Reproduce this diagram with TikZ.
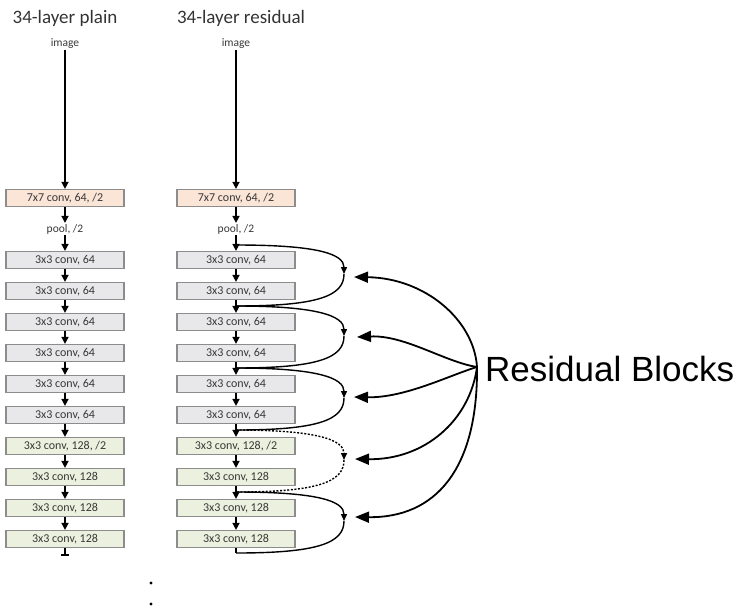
\documentclass[tikz,border=0pt]{standalone}
\usepackage{fontspec}
\setmainfont{Carlito}
\newfontfamily\arialfont{Liberation Sans}
\usetikzlibrary{arrows.meta}
\definecolor{peach}{HTML}{FBE5D6}
\definecolor{grayfill}{HTML}{E8E8EA}
\definecolor{greenfill}{HTML}{EBF1DE}
\definecolor{boxborder}{HTML}{8C8C8C}
\definecolor{txt}{HTML}{383838}
\begin{document}
\begin{tikzpicture}[x=1pt,y=-1pt,
 layer/.style={draw=boxborder, line width=1.2pt, minimum width=118pt, minimum height=17pt, inner sep=0pt, font=\fontsize{12}{13}\selectfont, text=txt},
 conv7/.style={layer, fill=peach},
 conv64/.style={layer, fill=grayfill},
 conv128/.style={layer, fill=greenfill},
 lbl/.style={font=\fontsize{11.5}{12}\selectfont, text=txt, inner sep=1pt},
 title/.style={font=\fontsize{19}{21}\selectfont, text=black!80},
 flow/.style={line width=1.5pt, -{Triangle[length=7pt,width=7pt]}},
 stem/.style={line width=1.5pt},
 skip/.style={line width=1.4pt},
 skiptip/.style={-{Triangle[length=7pt,width=6pt]}},
 dotskip/.style={line width=1.4pt, dash pattern=on 2pt off 1.6pt},
 callout/.style={line width=1.8pt, -{Triangle[length=14pt,width=11pt]}},
]
\useasboundingbox (0,0) rectangle (736,611);

% titles
\node[title] (tp) at (65,18) {34-layer plain};
\node[title] (tr) at (241,18) {34-layer residual};

% ---------- plain column ----------
\node[lbl] (pimg) at (65,44) {image};
\node[conv7] (p7) at (65,198) {7x7 conv, 64, /2};
\node[lbl] (ppool) at (65,229) {pool, /2};
\node[conv64] (p1) at (65,260) {3x3 conv, 64};
\node[conv64] (p2) at (65,291) {3x3 conv, 64};
\node[conv64] (p3) at (65,322) {3x3 conv, 64};
\node[conv64] (p4) at (65,353) {3x3 conv, 64};
\node[conv64] (p5) at (65,384) {3x3 conv, 64};
\node[conv64] (p6) at (65,415) {3x3 conv, 64};
\node[conv128] (p7b) at (65,446) {3x3 conv, 128, /2};
\node[conv128] (p8) at (65,477) {3x3 conv, 128};
\node[conv128] (p9) at (65,508) {3x3 conv, 128};
\node[conv128] (p10) at (65,539) {3x3 conv, 128};
\coordinate (pend) at (65,555);

\draw[flow] (pimg) -- (p7);
\draw[flow] (p7) -- (ppool);
\draw[flow] (ppool) -- (p1);
\draw[flow] (p1) -- (p2);
\draw[flow] (p2) -- (p3);
\draw[flow] (p3) -- (p4);
\draw[flow] (p4) -- (p5);
\draw[flow] (p5) -- (p6);
\draw[flow] (p6) -- (p7b);
\draw[flow] (p7b) -- (p8);
\draw[flow] (p8) -- (p9);
\draw[flow] (p9) -- (p10);
\draw[stem] (p10) -- (pend);
\draw[stem] (pend) ++(-4,0) -- ++(8,0);

% ---------- residual column ----------
\node[lbl] (rimg) at (236,44) {image};
\node[conv7] (r7) at (236,198) {7x7 conv, 64, /2};
\node[lbl] (rpool) at (236,229) {pool, /2};
\node[conv64] (r1) at (236,260) {3x3 conv, 64};
\node[conv64] (r2) at (236,291) {3x3 conv, 64};
\node[conv64] (r3) at (236,322) {3x3 conv, 64};
\node[conv64] (r4) at (236,353) {3x3 conv, 64};
\node[conv64] (r5) at (236,384) {3x3 conv, 64};
\node[conv64] (r6) at (236,415) {3x3 conv, 64};
\node[conv128] (r7b) at (236,446) {3x3 conv, 128, /2};
\node[conv128] (r8) at (236,477) {3x3 conv, 128};
\node[conv128] (r9) at (236,508) {3x3 conv, 128};
\node[conv128] (r10) at (236,539) {3x3 conv, 128};

\draw[flow] (rimg) -- (r7);
\draw[flow] (r7) -- (rpool);
\draw[flow] (rpool) -- (r1);
\draw[flow] (r1) -- (r2);
\draw[flow] (r2) -- (r3);
\draw[flow] (r3) -- (r4);
\draw[flow] (r4) -- (r5);
\draw[flow] (r5) -- (r6);
\draw[flow] (r6) -- (r7b);
\draw[flow] (r7b) -- (r8);
\draw[flow] (r8) -- (r9);
\draw[flow] (r9) -- (r10);

% junctions and skip arcs
\coordinate (rj0) at (236,245);
\coordinate (rj1) at (236,306);
\coordinate (rj2) at (236,368);
\coordinate (rj3) at (236,430);
\coordinate (rj4) at (236,492);
\coordinate (rj5) at (236,553);
\coordinate (m1) at (344,274);
\coordinate (m2) at (344,336);
\coordinate (m3) at (344,398);
\coordinate (m4) at (344,460);
\coordinate (m5) at (344,521);

\draw[stem] (r10) -- (rj5);

\draw[skip, skiptip] (rj0) .. controls +(82,0) and +(0,-20) .. (m1);
\draw[skip] (m1) .. controls +(0,22) and +(82,0) .. (rj1);
\draw[skip, skiptip] (rj1) .. controls +(82,0) and +(0,-20) .. (m2);
\draw[skip] (m2) .. controls +(0,22) and +(82,0) .. (rj2);
\draw[skip, skiptip] (rj2) .. controls +(82,0) and +(0,-20) .. (m3);
\draw[skip] (m3) .. controls +(0,22) and +(82,0) .. (rj3);
\draw[dotskip, skiptip] (rj3) .. controls +(82,0) and +(0,-20) .. (m4);
\draw[dotskip] (m4) .. controls +(0,22) and +(82,0) .. (rj4);
\draw[skip, skiptip] (rj4) .. controls +(82,0) and +(0,-20) .. (m5);
\draw[skip] (m5) .. controls +(0,22) and +(82,0) .. (rj5);

% ---------- callout ----------
\node[anchor=base west, inner sep=0pt, font=\arialfont\fontsize{35}{38}\selectfont] (rbt) at (485,381) {Residual Blocks};
\coordinate (rb) at (477,367);
\coordinate (t1) at (354,277);
\coordinate (t2) at (357,337);
\coordinate (t3) at (354,397);
\coordinate (t4) at (355,459);
\coordinate (t5) at (355,517);
\draw[callout] (rb) .. controls (474,320) and (425,278) .. (t1);
\draw[callout] (rb) .. controls (445,362) and (405,335) .. (t2);
\draw[callout] (rb) .. controls (450,375) and (405,398) .. (t3);
\draw[callout] (rb) .. controls (470,420) and (425,460) .. (t4);
\draw[callout] (rb) .. controls (478,470) and (435,518) .. (t5);

% ellipsis dots
\fill (151,583) circle (1.6);
\fill (151,604) circle (1.6);
\end{tikzpicture}
\end{document}
